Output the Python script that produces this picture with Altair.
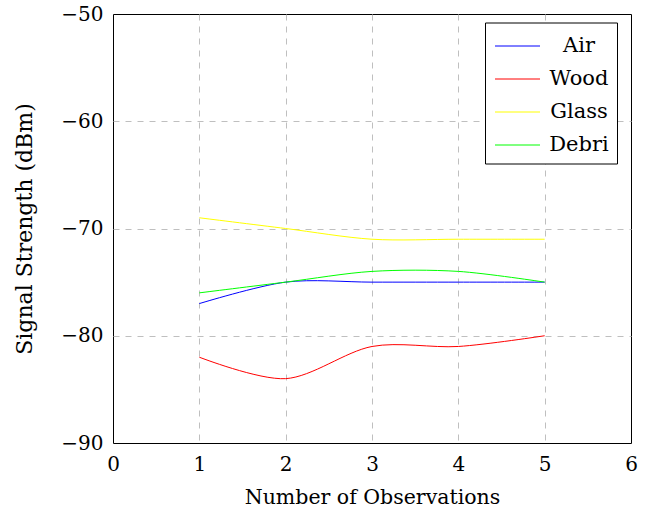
import altair as alt
import pandas as pd

observations = [1, 2, 3, 4, 5]
air = [-77, -75, -75, -75, -75]
wood = [-82, -84, -81, -81, -80]
glass = [-69, -70, -71, -71, -71]
debri = [-76, -75, -74, -74, -75]

series_names = ["Air", "Wood", "Glass", "Debri"]
series_colors = ["#0000ff", "#ff0000", "#ffff00", "#00ff00"]

rows = []
for name, vals in zip(series_names, [air, wood, glass, debri]):
    for x, v in zip(observations, vals):
        rows.append({"obs": x, "signal": v, "material": name})
df = pd.DataFrame(rows)

FONT = "DejaVu Serif"

grid_x = {"condition": {"test": "datum.value <= 0 || datum.value >= 6", "value": 0}, "value": 1}
grid_y = {"condition": {"test": "datum.value <= -90 || datum.value >= -50", "value": 0}, "value": 1}

chart = alt.Chart(df).mark_line(
    interpolate="cardinal", tension=0.08, strokeWidth=1
).encode(
    x=alt.X("obs:Q", title="Number of Observations",
            scale=alt.Scale(domain=[0, 6], nice=False),
            axis=alt.Axis(values=[0, 1, 2, 3, 4, 5, 6], format="d", gridOpacity=grid_x,
                          labelFlush=False, labelPadding=11, titlePadding=13,
                          titleFontSize=20.5)),
    y=alt.Y("signal:Q", title="Signal Strength (dBm)",
            scale=alt.Scale(domain=[-90, -50], nice=False),
            axis=alt.Axis(values=[-90, -80, -70, -60, -50], format="d", gridOpacity=grid_y,
                          labelFlush=False, labelPadding=10, titlePadding=24,
                          titleFontSize=22,
                          labelExpr="replace(datum.label, '-', '\u2212')")),
    color=alt.Color("material:N", title=None,
                    scale=alt.Scale(domain=series_names, range=series_colors),
                    legend=alt.Legend(
                        orient="none", legendX=372, legendY=8.5,
                        symbolType="M-0.9,0H2.1", symbolSize=900, symbolStrokeWidth=1,
                        labelFont=FONT, labelFontSize=21, labelColor="black",
                        labelAlign="center",
                        strokeColor="black", fillColor="white", padding=8,
                        rowPadding=7, cornerRadius=0, labelOffset=55)),
    detail="material:N",
).properties(
    width=518, height=429,
    autosize=alt.AutoSizeParams(type="none"),
    padding={"left": 113, "top": 14, "right": 24, "bottom": 71},
).configure(font=FONT).configure_view(
    stroke="black", strokeWidth=1
).configure_axis(
    grid=True, gridColor="#bfbfbf", gridDash=[6, 6], gridWidth=1,
    domain=False, ticks=False,
    labelFont=FONT, labelFontSize=20, labelColor="black",
    titleFont=FONT, titleFontWeight="normal", titleColor="black",
)

chart.save("out.html", embed_options={"renderer": "svg", "actions": False})
